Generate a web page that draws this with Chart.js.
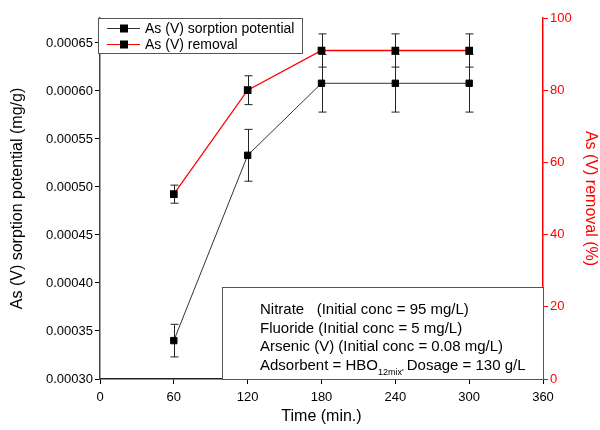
<!DOCTYPE html>
<html>
<head>
<meta charset="utf-8">
<script src="https://cdn.jsdelivr.net/npm/chart.js@4"></script>
<style>
  html, body { margin: 0; padding: 0; background: #fff; }
  #wrap { width: 600px; height: 430px; }
</style>
</head>
<body>
<div id="wrap"><canvas id="chart" width="600" height="430"></canvas></div>
<script>
// data
const timeMin = [60, 120, 180, 240, 300];
const sorption = [0.000340, 0.000533, 0.000608, 0.000608, 0.000608];
const sorptionErr = [0.000017, 0.000027, 0.000030, 0.000030, 0.000030];
const removal = [51.2, 80, 91, 91, 91];
const removalErr = [2.5, 4, 4.6, 4.6, 4.6];

const xTicks = [0, 60, 120, 180, 240, 300, 360];
const leftTicks = [0.00030, 0.00035, 0.00040, 0.00045, 0.00050, 0.00055, 0.00060, 0.00065];
const rightTicks = [0, 20, 40, 60, 80, 100];

const noteLines = [
  'Nitrate   (Initial conc = 95 mg/L)',
  'Fluoride (Initial conc = 5 mg/L)',
  'Arsenic (V) (Initial conc = 0.08 mg/L)'
];

const FONT = '"Liberation Sans", Arial, sans-serif';

function fixTicks(arr) {
  return function (scale) {
    scale.ticks = arr.map(v => ({ value: v }));
  };
}

// error bars drawn under the markers
const errorBars = {
  id: 'errorBars',
  beforeDatasetsDraw(chart) {
    const ctx = chart.ctx;
    chart.data.datasets.forEach((ds) => {
      if (!ds.errors) return;
      const ys = chart.scales[ds.yAxisID];
      const xs = chart.scales.x;
      ctx.save();
      ctx.strokeStyle = '#222';
      ctx.lineWidth = 1;
      ds.data.forEach((p, j) => {
        const x = Math.round(xs.getPixelForValue(p.x)) + 0.5;
        const top = ys.getPixelForValue(p.y + ds.errors[j]);
        const bot = ys.getPixelForValue(p.y - ds.errors[j]);
        ctx.beginPath();
        ctx.moveTo(x, top); ctx.lineTo(x, bot);
        ctx.moveTo(x - 4, top); ctx.lineTo(x + 4, top);
        ctx.moveTo(x - 4, bot); ctx.lineTo(x + 4, bot);
        ctx.stroke();
      });
      ctx.restore();
    });
  }
};

// legend box + conditions box
const boxes = {
  id: 'boxes',
  afterDraw(chart) {
    const ctx = chart.ctx;
    const area = chart.chartArea;
    ctx.save();

    // legend
    const lx = area.left - 2, ly = area.top, lw = 204, lh = 35;
    ctx.fillStyle = '#fff';
    ctx.fillRect(lx, ly, lw, lh);
    ctx.strokeStyle = '#555';
    ctx.lineWidth = 1;
    ctx.strokeRect(lx + 0.5, ly + 0.5, lw, lh);
    const items = [
      { text: 'As (V) sorption potential', color: '#333' },
      { text: 'As (V) removal', color: '#ff0000' }
    ];
    ctx.font = '14px ' + FONT;
    ctx.textBaseline = 'middle';
    items.forEach((it, k) => {
      const y = ly + 10 + k * 16;
      ctx.strokeStyle = it.color;
      ctx.beginPath();
      ctx.moveTo(lx + 9, y + 0.5); ctx.lineTo(lx + 42, y + 0.5);
      ctx.stroke();
      ctx.fillStyle = '#000';
      ctx.fillRect(lx + 22, y - 3.5, 8, 8);
      ctx.fillText(it.text, lx + 47, y + 1);
    });

    // conditions box
    const bx = 222, by = 287, bw = area.right - bx, bh = area.bottom - by;
    ctx.fillStyle = '#fff';
    ctx.fillRect(bx, by, bw, bh);
    ctx.strokeStyle = '#555';
    ctx.strokeRect(bx + 0.5, by + 0.5, bw, bh);
    ctx.fillStyle = '#000';
    ctx.font = '15px ' + FONT;
    ctx.textBaseline = 'alphabetic';
    const tx = 260, ty = 314, step = 18.7;
    noteLines.forEach((t, k) => ctx.fillText(t, tx, ty + k * step));
    const y4 = ty + 3 * step;
    const s = 'Adsorbent = HBO';
    ctx.fillText(s, tx, y4);
    let cx = tx + ctx.measureText(s).width;
    ctx.font = '9px ' + FONT;
    ctx.fillText("12mix'", cx, y4 + 5);
    cx += ctx.measureText("12mix'").width + 3;
    ctx.font = '15px ' + FONT;
    ctx.fillText('Dosage = 130 g/L', cx, y4);

    ctx.restore();
  }
};

const tickFont = { family: FONT, size: 13 };
const titleFont = { family: FONT, size: 16 };

new Chart(document.getElementById('chart'), {
  type: 'line',
  data: {
    datasets: [
      {
        label: 'As (V) sorption potential',
        data: timeMin.map((t, i) => ({ x: t, y: sorption[i] })),
        errors: sorptionErr,
        yAxisID: 'y',
        borderColor: '#333',
        borderWidth: 1,
        pointStyle: 'rect',
        pointRadius: 4.5,
        pointBackgroundColor: '#000',
        pointBorderColor: '#000',
        tension: 0
      },
      {
        label: 'As (V) removal',
        data: timeMin.map((t, i) => ({ x: t, y: removal[i] })),
        errors: removalErr,
        yAxisID: 'y2',
        borderColor: '#ff0000',
        borderWidth: 1.3,
        pointStyle: 'rect',
        pointRadius: 4.5,
        pointBackgroundColor: '#000',
        pointBorderColor: '#000',
        tension: 0
      }
    ]
  },
  options: {
    responsive: false,
    animation: false,
    layout: { padding: { top: 18, left: 0, right: 0, bottom: 0 } },
    plugins: { legend: { display: false }, tooltip: { enabled: false } },
    scales: {
      x: {
        type: 'linear',
        min: 0, max: 360,
        afterBuildTicks: fixTicks(xTicks),
        afterFit(s) { s.height = 51; },
        grid: { drawOnChartArea: false, tickLength: 5, color: '#000' },
        border: { color: '#222', width: 1.5 },
        ticks: { color: '#000', font: tickFont, padding: 6 },
        title: { display: true, text: 'Time (min.)', color: '#000', font: titleFont, padding: { top: 9 } }
      },
      y: {
        position: 'left',
        min: 0.0003, max: 0.000676,
        afterBuildTicks: fixTicks(leftTicks),
        afterFit(s) { s.width = 100; },
        grid: { drawOnChartArea: false, tickLength: 5, color: '#000' },
        border: { color: '#444', width: 1.5 },
        ticks: { color: '#000', font: tickFont, padding: 2, callback: v => v.toFixed(5) },
        title: { display: true, text: 'As (V) sorption potential (mg/g)', color: '#000', font: titleFont, padding: { top: 8, bottom: 0 } }
      },
      y2: {
        position: 'right',
        min: 0, max: 100,
        afterBuildTicks: fixTicks(rightTicks),
        afterFit(s) { s.width = 57; },
        grid: { drawOnChartArea: false, tickLength: 5, color: '#ff0000' },
        border: { color: '#ff0000', width: 1.5 },
        ticks: { color: '#ff0000', font: tickFont, padding: 2 },
        title: { display: true, text: 'As (V) removal (%)', color: '#ff0000', font: titleFont, padding: 0 }
      }
    }
  },
  plugins: [errorBars, boxes]
});
</script>
</body>
</html>
